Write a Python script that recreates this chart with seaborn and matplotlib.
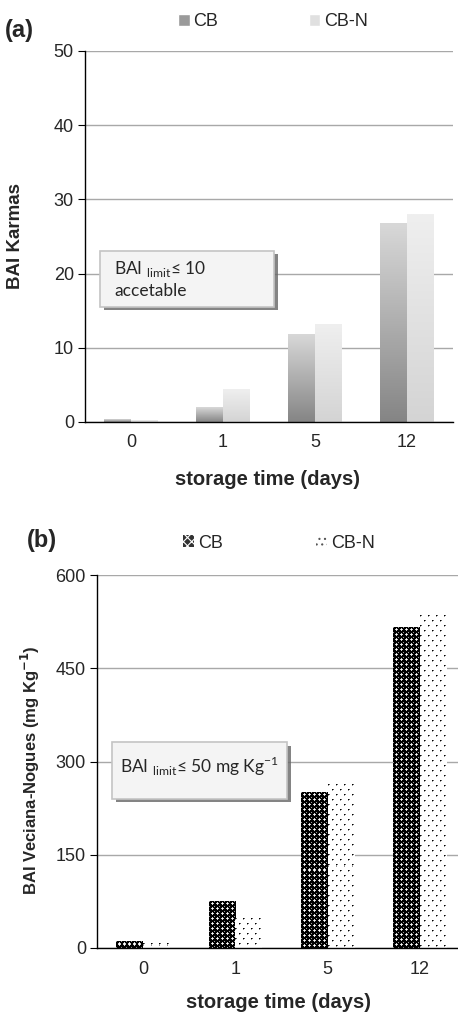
import numpy as np
import pandas as pd
import matplotlib
matplotlib.use('Agg')
import matplotlib.pyplot as plt
import seaborn as sb
from matplotlib.colors import LinearSegmentedColormap
from matplotlib.patches import FancyBboxPatch, Patch
import matplotlib.patheffects as pe

# dados
dias = ['0', '1', '5', '12']
amostras = ['CB', 'CB-N']
karmas_cb = [0.3, 1.9, 11.8, 26.8]
karmas_cbn = [0.2, 4.4, 13.1, 28.0]
veciana_cb = [10, 75, 250, 516]
veciana_cbn = [7, 48, 263, 535]

sb.set_style('white')
plt.rcParams['font.family'] = ['Liberation Sans', 'DejaVu Sans']
plt.rcParams['mathtext.fontset'] = 'custom'
plt.rcParams['mathtext.rm'] = 'Lato'
plt.rcParams['hatch.color'] = 'black'
plt.rcParams['hatch.linewidth'] = 0.8

dados_a = pd.DataFrame({'dia': dias * 2,
                        'amostra': ['CB'] * 4 + ['CB-N'] * 4,
                        'valor': karmas_cb + karmas_cbn})
dados_b = pd.DataFrame({'dia': dias * 2,
                        'amostra': ['CB'] * 4 + ['CB-N'] * 4,
                        'valor': veciana_cb + veciana_cbn})

fig = plt.figure(figsize=(4.58, 10.16), dpi=100)
W, H = 458, 1016
ax1 = fig.add_axes([85 / W, 1 - 422 / H, 368 / W, 371 / H])
ax2 = fig.add_axes([97 / W, 1 - 948 / H, 369 / W, 373 / H])


def estilo(ax, ymax, passo):
    ax.set_xlim(-0.5, 3.5)
    ax.set_ylim(0, ymax)
    ax.set_yticks(np.arange(0, ymax + 1, passo))
    ax.yaxis.grid(True, color='#a8a8a8', lw=1)
    ax.set_axisbelow(True)
    for s in ['top', 'right']:
        ax.spines[s].set_visible(False)
    for s in ['left', 'bottom']:
        ax.spines[s].set_color('black')
        ax.spines[s].set_linewidth(1)
    ax.set_xticks(range(4))
    ax.set_xticklabels(dias)
    ax.set_xticks([-0.5, 0.5, 1.5, 2.5, 3.5], minor=True)
    ax.tick_params(axis='x', which='major', length=0, labelsize=13, pad=9)
    ax.tick_params(axis='x', which='minor', length=5, direction='out', color='black')
    ax.tick_params(axis='y', length=5, direction='out', color='black', labelsize=13, left=True, pad=3)
    ax.set_xlabel('storage time (days)', fontsize=14.5, fontweight='bold', va='center')


def textura(ax, bar, tile):
    # preenche a barra com um padrao pixel a pixel
    x, y, w, h = bar.get_x(), bar.get_y(), bar.get_width(), bar.get_height()
    p0 = ax.transData.transform((x, y))
    p1 = ax.transData.transform((x + w, y + h))
    nw = max(int(round(p1[0] - p0[0])), 1)
    nh = max(int(round(p1[1] - p0[1])), 1)
    ty, tx = tile.shape
    img = np.tile(tile, (nh // ty + 2, nw // tx + 2))[:nh, :nw]
    ax.imshow(img[::-1], extent=[x, x + w, y, y + h], origin='lower', cmap='gray',
              vmin=0, vmax=1, interpolation='nearest', aspect='auto',
              clip_path=bar, zorder=bar.get_zorder())


# (a) Karmas com gradiente
sb.barplot(dados_a, x='dia', y='valor', hue='amostra', width=0.58, ax=ax1,
           palette=['#999999', '#dddddd'], legend=False)
estilo(ax1, 50, 10)
cores = [('#858585', '#d8d8d8'), ('#d4d4d4', '#efefef')]
grad = np.linspace(0, 1, 200).reshape(-1, 1)
for cont, (c0, c1) in zip(ax1.containers, cores):
    cmap = LinearSegmentedColormap.from_list('g', [c0, c1])
    for bar in cont:
        x, y, w, h = bar.get_x(), bar.get_y(), bar.get_width(), bar.get_height()
        ax1.imshow(grad, extent=[x, x + w, y, y + h], origin='lower', cmap=cmap,
                   aspect='auto', clip_path=bar, zorder=bar.get_zorder())
        bar.set_facecolor('none')
        bar.set_linewidth(0)
ax1.set_xlim(-0.5, 3.5)
ax1.set_ylim(0, 50)
ax1.set_ylabel('BAI Karmas', fontsize=13.5, fontweight='bold', ha='center', va='center')
ax1.yaxis.set_label_coords(-0.19, 0.5)
ax1.xaxis.set_label_coords(0.497, -0.154)

h_a = [Patch(facecolor='#9a9a9a'), Patch(facecolor='#e0e0e0')]
ax1.legend(h_a, amostras, loc='center', bbox_to_anchor=(273 / W, 1 - 22 / H),
           bbox_transform=fig.transFigure, ncol=2, frameon=False, fontsize=13,
           handlelength=0.65, handleheight=0.65, handletextpad=0.2, columnspacing=5.0)

# (b) Veciana-Nogues com padroes
sb.barplot(dados_b, x='dia', y='valor', hue='amostra', width=0.58, ax=ax2,
           palette=['#444444', '#ffffff'], legend=False)
estilo(ax2, 600, 150)
tile_cb = np.array([[0.6, 0.0, 0.0, 0.0, 0.0],
                    [0.0, 0.0, 0.0, 0.8, 0.0],
                    [0.0, 0.0, 0.8, 1.0, 0.8],
                    [0.0, 0.0, 0.0, 0.8, 0.0],
                    [0.0, 0.0, 0.0, 0.0, 0.0]])
tile_cbn = np.ones((10, 8))
tile_cbn[0, 0] = 0.0
tile_cbn[0, 1] = 0.4
tile_cbn[1, 0] = 0.6
tile_cbn[5, 4] = 0.0
tile_cbn[5, 5] = 0.4
tile_cbn[6, 4] = 0.6
for cont, tl in zip(ax2.containers, [tile_cb, tile_cbn]):
    for bar in cont:
        textura(ax2, bar, tl)
        bar.set_facecolor('none')
        bar.set_linewidth(0)
ax2.set_xlim(-0.5, 3.5)
ax2.set_ylim(0, 600)
ax2.set_ylabel('BAI Veciana-Nogues (mg Kg$^{\\mathbf{-1}}$)', fontsize=12,
               fontweight='bold', ha='center', va='center')
ax2.yaxis.set_label_coords(-0.18, 0.477)
ax2.xaxis.set_label_coords(0.493, -0.147)

h_b = [Patch(facecolor='#333333', edgecolor='white', lw=0, hatch='xxxx'),
       Patch(facecolor='white', edgecolor='#555555', lw=0, hatch='...')]
ax2.legend(h_b, amostras, loc='center', bbox_to_anchor=(279 / W, 1 - 543 / H),
           bbox_transform=fig.transFigure, ncol=2, frameon=False, fontsize=13,
           handlelength=0.6, handleheight=0.6, handletextpad=0.2, columnspacing=5.2)

# caixas de texto
def caixa(ax, x0, y0, x1, y1):
    box = FancyBboxPatch((x0, y0), x1 - x0, y1 - y0, boxstyle='square,pad=0',
                         transform=ax.transAxes, facecolor='#f4f4f4',
                         edgecolor='#c4c4c4', lw=1.2, zorder=5,
                         path_effects=[pe.SimplePatchShadow(offset=(2.5, -2.5), shadow_rgbFace='#666666', alpha=0.8),
                                       pe.Normal()])
    ax.add_patch(box)

caixa(ax1, 0.041, 0.31, 0.514, 0.461)
ax1.text(0.079, 0.413, r'BAI $_{\mathregular{limit}}$≤ 10', transform=ax1.transAxes,
         family=['Lato', 'DejaVu Sans'], fontsize=12.5, va='center', zorder=6)
ax1.text(0.079, 0.352, 'accetable', transform=ax1.transAxes,
         family=['Lato', 'DejaVu Sans'], fontsize=12.5, va='center', zorder=6)

caixa(ax2, 0.041, 0.40, 0.515, 0.552)
ax2.text(0.278, 0.488, r'BAI $_{\mathregular{limit}}$≤ 50 mg Kg$^{\mathregular{-1}}$',
         transform=ax2.transAxes, family=['Lato', 'DejaVu Sans'], fontsize=12.5,
         ha='center', va='center', zorder=6)

# rotulos dos paineis
fig.text(5 / W, 1 - 30 / H, '(a)', fontsize=17, fontweight='bold', va='center')
fig.text(27 / W, 1 - 540 / H, '(b)', fontsize=17, fontweight='bold', va='center')

fig.savefig('out.png', dpi=100)
